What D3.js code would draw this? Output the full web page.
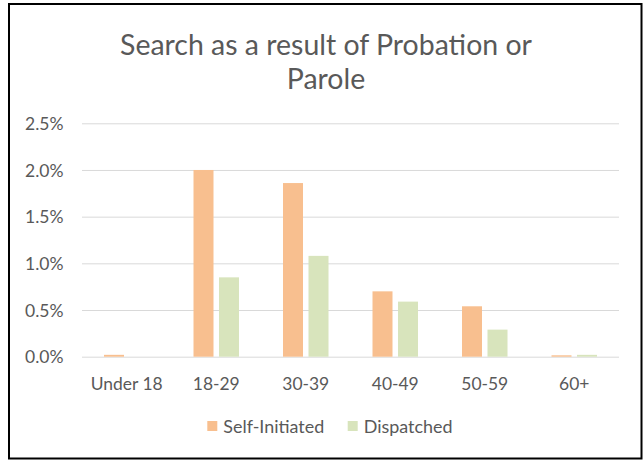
<!DOCTYPE html>
<html><head><meta charset="utf-8">
<script src="https://cdn.jsdelivr.net/npm/d3@7"></script>
<style>body{margin:0;background:#fff;} text{font-family:Lato,"Open Sans",sans-serif;fill:#595959;}</style>
</head><body>
<svg id="c" width="644" height="460"></svg>
<script>
const categories = ["Under 18","18-29","30-39","40-49","50-59","60+"];
const seriesNames = ["Self-Initiated","Dispatched"];
const selfInitiated = [0.0002,0.0200,0.0186,0.0070,0.0054,0.00015];
const dispatched = [0,0.0085,0.0108,0.0059,0.0029,0.0002];
const yTicks = [0,0.005,0.010,0.015,0.020,0.025];
const colors = ["#F8BF8F","#D8E4BC"];

const svg = d3.select("#c");
svg.append("rect").attr("x",9).attr("y",4).attr("width",632.5).attr("height",454.5)
  .attr("fill","#fff").attr("stroke","#000").attr("stroke-width",2);

const m = {left:82, right:619, top:123.3, bottom:356.7};
const x0 = d3.scaleBand().domain(categories).range([m.left,m.right]).paddingInner(0).paddingOuter(0);
const x1 = d3.scaleBand().domain(seriesNames).range([22, x0.bandwidth()-22]).paddingInner(0.2157).paddingOuter(0);
const y = d3.scaleLinear().domain([0,0.025]).range([m.bottom,m.top]);

function fitSize(sel, target){
  const n = sel.node(); const fs = parseFloat(sel.attr("font-size"));
  const w = n.getComputedTextLength(); return fs*target/w;
}

// grid
const yAxis = d3.axisLeft(y).tickValues(yTicks).tickFormat(d3.format(".1%")).tickSize(-(m.right-m.left)).tickPadding(18.5);
const ga = svg.append("g").attr("transform",`translate(${m.left},0)`).call(yAxis);
ga.select(".domain").remove();
ga.selectAll(".tick line").attr("stroke","#d9d9d9").attr("stroke-width",1);
ga.selectAll(".tick text").attr("font-size",17.5).attr("fill","#595959").attr("dy","0.35em").attr("font-family","Lato");

// bars
const data = categories.map((c,i)=>({c, vals:[selfInitiated[i],dispatched[i]]}));
const g = svg.append("g");
data.forEach(d=>{
  d.vals.forEach((v,j)=>{
    g.append("rect").attr("x",x0(d.c)+x1(seriesNames[j])).attr("width",x1.bandwidth())
     .attr("y",y(v)).attr("height",m.bottom-y(v)).attr("fill",colors[j]);
  });
});

// x axis
const xAxis = d3.axisBottom(x0).tickSize(0).tickPadding(0);
const gx = svg.append("g").attr("transform",`translate(0,${m.bottom})`).call(xAxis);
gx.select(".domain").remove();
const xt = gx.selectAll(".tick text").attr("font-size",15).attr("fill","#595959").attr("y",33).attr("dy",0).attr("font-family","Lato");
const xfs = fitSize(gx.select(".tick text"), 72);
xt.attr("font-size", xfs);

// title
const t1 = svg.append("text").attr("x",326).attr("y",55).attr("text-anchor","middle").attr("font-size",25).text("Search as a result of Probation or");
const tfs = fitSize(t1,412);
t1.attr("font-size",tfs);
svg.append("text").attr("x",326).attr("y",89).attr("text-anchor","middle").attr("font-size",tfs).text("Parole");

// legend
const legX = [207.3, 347.7];
const legT = [];
seriesNames.forEach((s,i)=>{
  svg.append("rect").attr("x",legX[i]).attr("y",421).attr("width",10).attr("height",10).attr("fill",colors[i]);
  legT.push(svg.append("text").attr("x",legX[i]+16).attr("y",432.5).attr("font-size",15).text(s));
});
const lfs = fitSize(legT[0],101);
legT.forEach(t=>t.attr("font-size",lfs));
</script>
</body></html>
